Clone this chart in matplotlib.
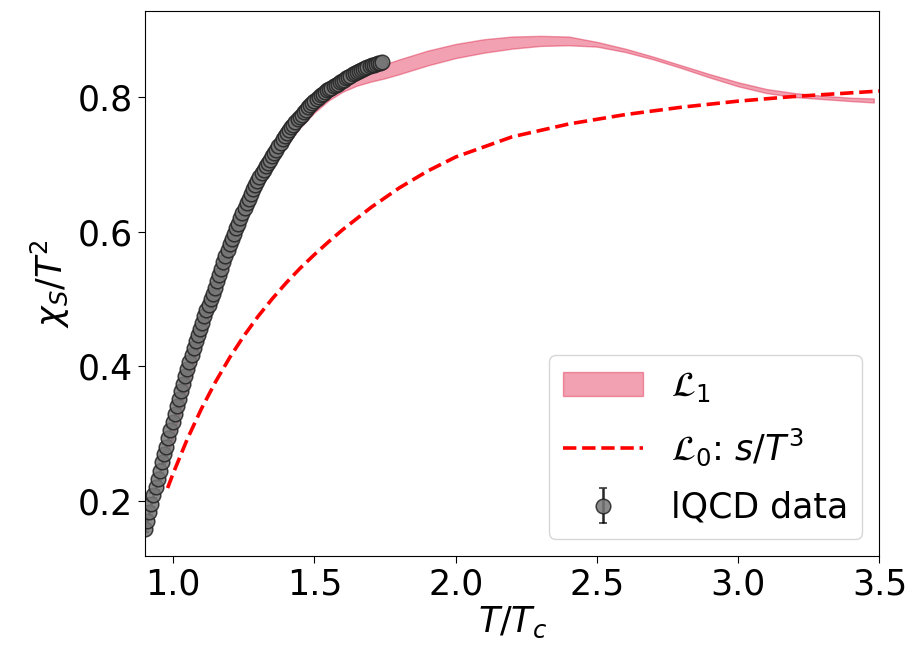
import matplotlib
matplotlib.use("Agg")
import matplotlib.pyplot as plt

# lattice QCD points
t_lqcd = [0.9000, 0.9075, 0.9150, 0.9225, 0.9300, 0.9375, 0.9450, 0.9525, 0.9600, 0.9675,
          0.9750, 0.9825, 0.9900, 0.9975, 1.0050, 1.0125, 1.0200, 1.0275, 1.0350, 1.0425,
          1.0500, 1.0575, 1.0650, 1.0725, 1.0800, 1.0875, 1.0950, 1.1025, 1.1100, 1.1175,
          1.1250, 1.1325, 1.1400, 1.1475, 1.1550, 1.1625, 1.1700, 1.1775, 1.1850, 1.1925,
          1.2000, 1.2075, 1.2150, 1.2225, 1.2300, 1.2375, 1.2450, 1.2525, 1.2600, 1.2675,
          1.2750, 1.2825, 1.2900, 1.2975, 1.3050, 1.3125, 1.3200, 1.3275, 1.3350, 1.3425,
          1.3500, 1.3575, 1.3650, 1.3725, 1.3800, 1.3875, 1.3950, 1.4025, 1.4100, 1.4175,
          1.4250, 1.4325, 1.4400, 1.4475, 1.4550, 1.4625, 1.4700, 1.4775, 1.4850, 1.4925,
          1.5000, 1.5075, 1.5150, 1.5225, 1.5300, 1.5375, 1.5450, 1.5525, 1.5600, 1.5675,
          1.5750, 1.5825, 1.5900, 1.5975, 1.6050, 1.6125, 1.6200, 1.6275, 1.6350, 1.6425,
          1.6500, 1.6575, 1.6650, 1.6725, 1.6800, 1.6875, 1.6950, 1.7025, 1.7100, 1.7175,
          1.7250, 1.7325, 1.7400]
chi_lqcd = [0.158, 0.170, 0.183, 0.195, 0.208, 0.220, 0.233, 0.245, 0.258, 0.269,
            0.280, 0.293, 0.305, 0.317, 0.329, 0.341, 0.352, 0.363, 0.374, 0.385,
            0.396, 0.407, 0.417, 0.427, 0.437, 0.447, 0.456, 0.465, 0.474, 0.483,
            0.491, 0.500, 0.508, 0.517, 0.526, 0.536, 0.545, 0.555, 0.564, 0.573,
            0.581, 0.589, 0.597, 0.605, 0.612, 0.620, 0.627, 0.635, 0.642, 0.649,
            0.656, 0.663, 0.669, 0.675, 0.681, 0.687, 0.692, 0.697, 0.702, 0.707,
            0.712, 0.717, 0.722, 0.727, 0.732, 0.737, 0.742, 0.747, 0.751, 0.755,
            0.759, 0.763, 0.767, 0.771, 0.774, 0.778, 0.781, 0.785, 0.788, 0.791,
            0.794, 0.797, 0.800, 0.803, 0.805, 0.808, 0.810, 0.812, 0.814, 0.816,
            0.818, 0.820, 0.822, 0.824, 0.826, 0.828, 0.830, 0.832, 0.834, 0.836,
            0.837, 0.839, 0.840, 0.842, 0.843, 0.845, 0.846, 0.847, 0.848, 0.849,
            0.850, 0.851, 0.852]
err_lqcd = [0.004] * len(t_lqcd)

# L1 band
t_band = [0.98, 1.00, 1.05, 1.10, 1.15, 1.20, 1.25, 1.30, 1.35, 1.40, 1.45, 1.50,
          1.55, 1.60, 1.65, 1.70, 1.75, 1.80, 1.90, 2.00, 2.10, 2.20, 2.30, 2.40,
          2.50, 2.60, 2.70, 2.80, 2.90, 3.00, 3.10, 3.20, 3.30, 3.40, 3.48]
band_lo = [0.268, 0.295, 0.370, 0.440, 0.500, 0.560, 0.612, 0.657, 0.695, 0.728,
           0.755, 0.777, 0.795, 0.808, 0.817, 0.823, 0.828, 0.834, 0.847, 0.858,
           0.866, 0.872, 0.876, 0.877, 0.875, 0.867, 0.856, 0.843, 0.829, 0.816,
           0.806, 0.800, 0.797, 0.794, 0.792]
band_hi = [0.276, 0.305, 0.382, 0.452, 0.514, 0.572, 0.624, 0.670, 0.708, 0.740,
           0.768, 0.790, 0.808, 0.822, 0.833, 0.842, 0.849, 0.856, 0.869, 0.879,
           0.886, 0.890, 0.891, 0.890, 0.882, 0.872, 0.860, 0.847, 0.834, 0.822,
           0.812, 0.806, 0.802, 0.799, 0.798]

# L0 : s/T^3 curve
t_l0 = [0.98, 1.00, 1.05, 1.10, 1.15, 1.20, 1.25, 1.30, 1.35, 1.40, 1.45, 1.50,
        1.55, 1.60, 1.70, 1.80, 1.90, 2.00, 2.20, 2.40, 2.60, 2.80, 3.00, 3.20, 3.50]
chi_l0 = [0.219, 0.241, 0.292, 0.337, 0.377, 0.413, 0.445, 0.474, 0.500, 0.524,
          0.546, 0.566, 0.585, 0.603, 0.636, 0.665, 0.690, 0.711, 0.741, 0.760,
          0.774, 0.785, 0.794, 0.801, 0.809]

fs = 25
plt.rcParams['font.size'] = fs

fig = plt.figure(figsize=(9.09, 6.45), dpi=100)
ax = fig.add_axes([0.1595, 0.138, 0.808, 0.845])

band = ax.fill_between(t_band, band_lo, band_hi, color='crimson', alpha=0.4, lw=1)
l0, = ax.plot(t_l0, chi_l0, '--', color='red', lw=2.6)
data = ax.errorbar(t_lqcd, chi_lqcd, yerr=err_lqcd, fmt='o', color='k',
                   mfc='#777777', mec='#222222', ms=10.5, mew=1.1, capsize=3,
                   elinewidth=1.8, alpha=0.85)

ax.set_xlim(0.9, 3.5)
ax.set_ylim(0.118, 0.928)
ax.set_xticks([1.0, 1.5, 2.0, 2.5, 3.0, 3.5])
ax.set_yticks([0.2, 0.4, 0.6, 0.8])
ax.tick_params(labelsize=fs, length=5)
ax.set_xlabel(r'$T/T_c$', fontsize=fs, labelpad=2)
ax.set_ylabel(r'$\chi_S/T^2$', fontsize=fs)

ax.legend([band, l0, data],
          [r'$\mathcal{L}_1$', r'$\mathcal{L}_0$: $s/T^3$', 'lQCD data'],
          loc='lower right', fontsize=fs, handlelength=2.3, labelspacing=0.65)

fig.savefig('out.png', dpi=100)
